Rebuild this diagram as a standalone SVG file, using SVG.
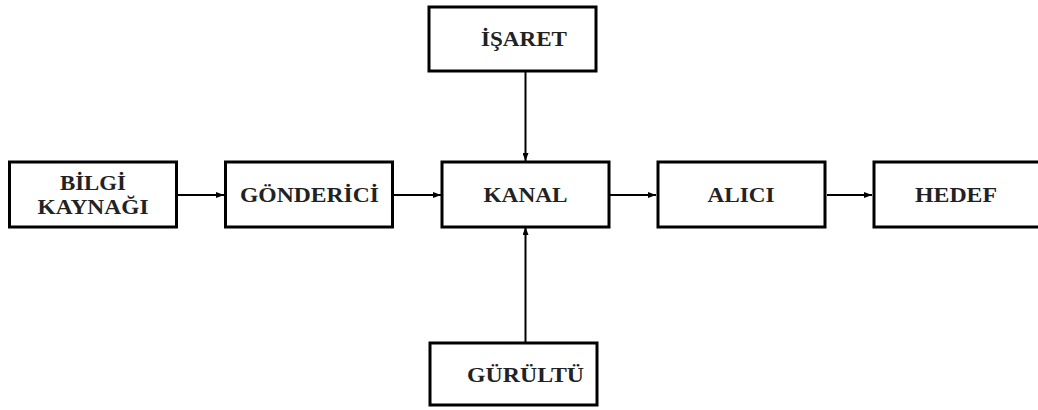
<svg xmlns="http://www.w3.org/2000/svg" width="1038" height="410" viewBox="0 0 1038 410">
<style>
.box{fill:#fff;stroke:#000;stroke-width:3}
.t{font-family:'Liberation Serif','Times New Roman','DejaVu Serif',serif;font-weight:700;font-size:20px;fill:#222;text-anchor:middle}
.c{stroke:#000;stroke-width:2;fill:none}
</style>
<defs>
<marker id="ah" viewBox="0 0 8 6" refX="8" refY="3" markerWidth="4" markerHeight="3" orient="auto" markerUnits="strokeWidth">
<path d="M0,0L8,3L0,6z" fill="#000"/>
</marker>
</defs>
<rect width="1038" height="410" fill="#fff"/>
<g id="connectors">
<line class="c" x1="178" y1="195" x2="224" y2="195" marker-end="url(#ah)"/>
<line class="c" x1="394" y1="195" x2="441" y2="195" marker-end="url(#ah)"/>
<line class="c" x1="610" y1="195" x2="656" y2="195" marker-end="url(#ah)"/>
<line class="c" x1="827" y1="195" x2="872" y2="195" marker-end="url(#ah)"/>
<line class="c" x1="525.5" y1="72" x2="525.5" y2="161" marker-end="url(#ah)"/>
<line class="c" x1="525.5" y1="342" x2="525.5" y2="227" marker-end="url(#ah)"/>
</g>
<g id="bilgi-kaynagi">
<rect class="box" x="9.5" y="162" width="167" height="65"/>
<text class="t" font-family="Liberation Serif" x="93" y="190" textLength="66" lengthAdjust="spacingAndGlyphs">BİLGİ</text>
<text class="t" font-family="Liberation Serif" x="93" y="214" textLength="111" lengthAdjust="spacingAndGlyphs">KAYNAĞI</text>
</g>
<g id="gonderici">
<rect class="box" x="225.5" y="162" width="167" height="65"/>
<text class="t" x="309.5" y="202" textLength="139" lengthAdjust="spacingAndGlyphs">GÖNDERİCİ</text>
</g>
<g id="kanal">
<rect class="box" x="442" y="162" width="167" height="65"/>
<text class="t" x="525.5" y="202" textLength="84" lengthAdjust="spacingAndGlyphs">KANAL</text>
</g>
<g id="alici">
<rect class="box" x="658" y="162" width="167" height="65"/>
<text class="t" x="741" y="202" textLength="67" lengthAdjust="spacingAndGlyphs">ALICI</text>
</g>
<g id="hedef">
<rect class="box" x="874" y="162" width="167" height="65"/>
<text class="t" x="956" y="202" textLength="82" lengthAdjust="spacingAndGlyphs">HEDEF</text>
</g>
<g id="isaret">
<rect class="box" x="429" y="7" width="167" height="64"/>
<text class="t" x="524" y="46" textLength="86" lengthAdjust="spacingAndGlyphs">İŞARET</text>
</g>
<g id="gurultu">
<rect class="box" x="430" y="343" width="167" height="62"/>
<text class="t" x="525.5" y="382" textLength="117" lengthAdjust="spacingAndGlyphs">GÜRÜLTÜ</text>
</g>
</svg>
